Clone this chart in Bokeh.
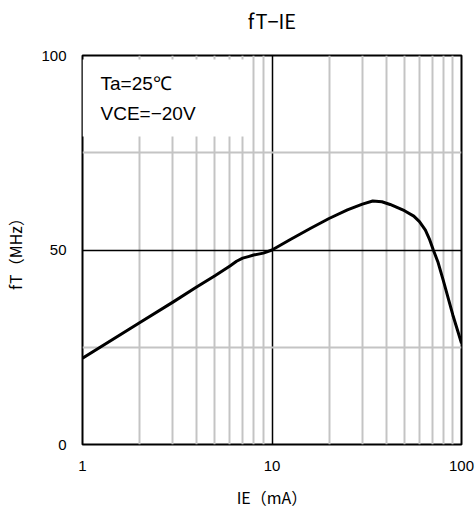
from bokeh.plotting import figure
from bokeh.models import FixedTicker, BoxAnnotation, Label, ColumnDataSource, Title
from bokeh.embed import file_html
from bokeh.resources import INLINE

# data
ie_ma = [1, 2, 3, 4, 5, 6, 6.5, 7, 7.5, 8, 9, 10, 12.5, 16, 20, 25, 30, 34, 38, 42,
         50, 56, 60, 64.5, 68, 71, 75, 80, 90, 100]
ft_mhz = [22.2, 31.3, 36.6, 40.5, 43.4, 45.9, 47.1, 47.9, 48.3, 48.7, 49.2, 50, 52.7, 55.6,
          58.1, 60.3, 61.8, 62.6, 62.4, 61.7, 60.1, 58.7, 57.3, 55.1, 52.6, 50.0, 47.0,
          42.3, 33.3, 26.0]
x_major = [1, 10, 100]
x_minor = [2, 3, 4, 5, 6, 7, 8, 9, 20, 30, 40, 50, 60, 70, 80, 90]
y_major = [0, 50, 100]
y_minor = [25, 75]
title_text = "fT\u2212IE"
x_label = "IE\uff08mA\uff09"
y_label = "fT\uff08MHz\uff09"
notes = ["Ta=25\u2103", "VCE=\u221220V"]

JP = "Noto Sans CJK JP"
LAT = "Liberation Sans"

p = figure(width=475, height=512, x_axis_type="log", x_range=(1, 100), y_range=(0, 100),
           output_backend="svg", toolbar_location=None, title=title_text,
           min_border_left=82, min_border_right=14, min_border_top=55, min_border_bottom=68)

p.title.align = "center"
p.title.text_font = JP
p.title.text_font_size = "20px"
p.title.text_font_style = "normal"
p.title.text_color = "black"
p.title.standoff = 6

# blank spacer between the title and the frame
p.add_layout(Title(text=" ", text_font_size="2px", standoff=14), "above")

p.outline_line_color = "black"
p.outline_line_width = 2
p.outline_line_alpha = 1

p.xaxis.ticker = FixedTicker(ticks=x_major, minor_ticks=x_minor)
p.yaxis.ticker = FixedTicker(ticks=y_major, minor_ticks=y_minor)
p.xaxis.major_label_overrides = {1: "1", 10: "10", 100: "100"}

for ax in (p.xaxis, p.yaxis):
    ax.axis_line_color = None
    ax.major_tick_line_color = None
    ax.minor_tick_line_color = None
    ax.major_tick_out = 0
    ax.major_tick_in = 0
    ax.minor_tick_out = 0
    ax.minor_tick_in = 0
    ax.major_label_text_font = LAT
    ax.major_label_text_font_size = "15px"
    ax.major_label_text_color = "black"
    ax.major_label_standoff = 16
    ax.axis_label_text_font = JP
    ax.axis_label_text_font_size = "16px"
    ax.axis_label_text_font_style = "normal"
    ax.axis_label_text_color = "black"
    ax.axis_label_standoff = 11

p.xaxis.axis_label = x_label
p.yaxis.axis_label = y_label

for g in (p.xgrid, p.ygrid):
    g.grid_line_color = "black"
    g.grid_line_width = 1.5
    g.grid_line_alpha = 1
    g.minor_grid_line_color = "#c4c4c4"
    g.minor_grid_line_width = 2

src = ColumnDataSource(data=dict(x=ie_ma, y=ft_mhz))
p.line("x", "y", source=src, line_color="black", line_width=3, line_join="round")

p.add_layout(BoxAnnotation(left=1, right=7.5, bottom=79.2, top=99, fill_color="white",
                           fill_alpha=1, line_color=None, level="underlay"))
p.add_layout(Label(x=18, y=361, x_units="screen", y_units="screen", text=notes[0],
                   text_font=LAT, text_font_size="19px", text_color="black",
                   text_baseline="middle"))
p.add_layout(Label(x=18, y=331, x_units="screen", y_units="screen", text=notes[1],
                   text_font=LAT, text_font_size="19px", text_color="black",
                   text_baseline="middle"))

open("out.html", "w").write(file_html(p, INLINE))
